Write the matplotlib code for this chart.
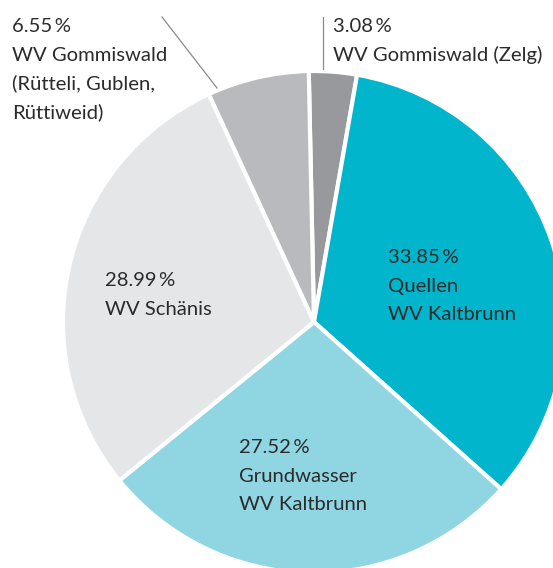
import matplotlib
matplotlib.use("Agg")
import matplotlib.pyplot as plt

# Data (clockwise from top)
categories = ["WV Gommiswald (Zelg)", "Quellen WV Kaltbrunn", "Grundwasser WV Kaltbrunn",
              "WV Schänis", "WV Gommiswald (Rütteli, Gublen, Rüttiweid)"]
values = [3.08, 33.85, 27.52, 28.99, 6.55]
colors = ["#98999c", "#00b5cc", "#8fd5e2", "#e5e6e8", "#b9babd"]
label_lines = [
    ["WV Gommiswald (Zelg)"],
    ["Quellen", "WV Kaltbrunn"],
    ["Grundwasser", "WV Kaltbrunn"],
    ["WV Schänis"],
    ["WV Gommiswald", "(Rütteli, Gublen,", "Rüttiweid)"],
]

W, H = 553, 568
fig = plt.figure(figsize=(W / 100, H / 100), dpi=100)
ax = fig.add_axes([0, 0, 1, 1])

cx, cy, r = 314, H - 322, 251
ax.pie(values, colors=colors, startangle=91.2, counterclock=False,
       center=(cx, cy), radius=r, frame=True,
       wedgeprops=dict(edgecolor="white", linewidth=3))
ax.set_xlim(0, W)
ax.set_ylim(0, H)
ax.set_aspect("equal")
ax.axis("off")

# label anchor (left x, baseline of first line in px from top)
anchors = [(333, 32), (388, 263), (239, 453), (105, 286), (12, 32)]
fam = ["Lato", "DejaVu Sans"]
tc = "#2b2b2b"
lh = 28.7
for v, lines, (x, yb) in zip(values, label_lines, anchors):
    allines = [f"{v:.2f}\u2009%"] + lines
    for i, t in enumerate(allines):
        ax.text(x, H - (yb + i * lh), t, fontsize=14.6, family=fam, color=tc,
                ha="left", va="baseline")

# leader lines
ax.plot([323, 323], [H - 17, H - 69], color="#8a8a8a", lw=0.9)
ax.plot([162, 217], [H - 17, H - 88], color="#8a8a8a", lw=0.9)

fig.savefig("out.png", dpi=100)
